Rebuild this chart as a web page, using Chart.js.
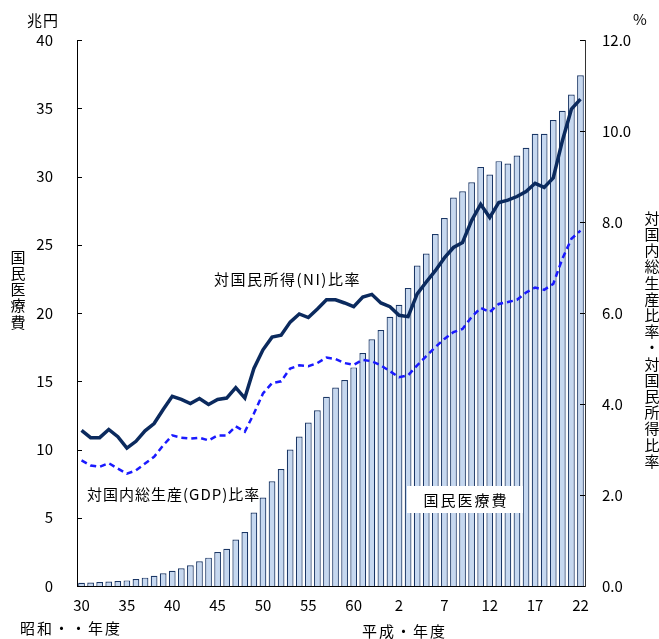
<!DOCTYPE html>
<html lang="ja">
<head>
<meta charset="utf-8">
<script src="https://cdn.jsdelivr.net/npm/chart.js@4.4.1/dist/chart.umd.min.js"></script>
<style>
  html, body { margin: 0; padding: 0; background: #fff; }
  #wrap { position: relative; width: 659px; height: 639px; }
</style>
</head>
<body>
<div id="wrap"><canvas id="chart"></canvas></div>
<script>
// 年度ラベル（昭和30〜63、平成1〜22）
const showaYears = [30,31,32,33,34,35,36,37,38,39,40,41,42,43,44,45,46,47,48,49,50,51,52,53,54,55,56,57,58,59,60,61,62,63];
const heiseiYears = [1,2,3,4,5,6,7,8,9,10,11,12,13,14,15,16,17,18,19,20,21,22];
const yearLabels = showaYears.concat(heiseiYears).map(String);

// 国民医療費（兆円）
const medicalCost = [
  0.2388,0.2583,0.2897,0.3230,0.3625,0.4095,0.5130,0.6132,0.7541,0.9389,
  1.1224,1.3002,1.5116,1.8101,2.0780,2.4962,2.7250,3.3994,3.9496,5.3786,
  6.4779,7.6684,8.5686,10.0042,10.9510,11.9805,12.8709,13.8659,14.5438,15.0932,
  16.0159,17.0690,18.0759,18.7554,
  19.7290,20.6074,21.8260,23.4784,24.3631,25.7908,26.9577,28.4542,28.9149,29.5823,
  30.7019,30.1418,31.1234,30.9507,31.5375,32.1111,33.1289,33.1276,34.1360,34.8084,
  36.0067,37.4202
];

// 対国民所得比率（%）
const niRatio = [
  3.42,3.26,3.26,3.44,3.28,3.03,3.18,3.41,3.57,3.88,4.17,4.10,4.01,4.12,3.99,4.10,4.13,4.36,4.13,4.78,5.19,
  5.47,5.51,5.80,5.98,5.90,6.09,6.29,6.29,6.22,6.14,6.35,6.41,6.22,6.14,5.95,5.92,6.42,6.68,6.93,7.21,7.44,
  7.55,8.03,8.39,8.10,8.43,8.48,8.56,8.67,8.85,8.76,8.97,9.78,10.48,10.70
];

// 対国内総生産比率（%）
const gdpRatio = [
  2.76,2.65,2.62,2.70,2.58,2.47,2.54,2.69,2.84,3.09,3.31,3.26,3.24,3.26,3.20,3.31,3.31,3.51,3.39,3.79,4.23,
  4.46,4.50,4.78,4.85,4.83,4.90,5.02,4.99,4.90,4.86,4.97,4.94,4.85,4.72,4.59,4.63,4.85,5.05,5.25,5.43,5.58,
  5.65,5.91,6.11,6.02,6.20,6.24,6.29,6.45,6.56,6.51,6.64,7.19,7.63,7.81
];

const leftTitle = '国民医療費';
const rightTitle = '対国内総生産比率・対国民所得比率';

const FONT = "'Noto Sans CJK JP', 'Noto Sans', sans-serif";

// inward tick marks + text labels
const overlay = {
  id: 'overlay',
  afterDatasetsDraw(chart) {
    const { ctx, chartArea: a, scales } = chart;
    ctx.save();
    ctx.strokeStyle = '#000';
    ctx.lineWidth = 1;
    scales.y.ticks.forEach(t => {
      const py = Math.round(scales.y.getPixelForValue(t.value)) + 0.5;
      ctx.beginPath(); ctx.moveTo(a.left, py); ctx.lineTo(a.left + 5, py); ctx.stroke();
    });
    scales.y1.ticks.forEach(t => {
      const py = Math.round(scales.y1.getPixelForValue(t.value)) + 0.5;
      ctx.beginPath(); ctx.moveTo(a.right - 5, py); ctx.lineTo(a.right, py); ctx.stroke();
    });

    ctx.fillStyle = '#000';
    ctx.textBaseline = 'middle';
    ctx.font = '15px ' + FONT;

    // units
    ctx.textAlign = 'left';
    ctx.letterSpacing = '1px';
    ctx.fillText('兆円', 27, 20);
    ctx.letterSpacing = '0px';
    ctx.fillText('%', 633, 19);

    // vertical axis titles
    ctx.textAlign = 'center';
    [...leftTitle].forEach((ch, i) => ctx.fillText(ch, 18, 257 + i * 16.2));
    [...rightTitle].forEach((ch, i) => ctx.fillText(ch, 652, 218 + i * 16.2));

    // series labels
    ctx.textAlign = 'left';
    ctx.letterSpacing = '1.5px';
    ctx.fillText('対国民所得(NI)比率', 214, 279);
    ctx.letterSpacing = '1px';
    ctx.fillText('対国内総生産(GDP)比率', 87, 494);

    ctx.fillStyle = '#fff';
    ctx.fillRect(407, 486, 116, 27);
    ctx.fillStyle = '#000';
    ctx.textAlign = 'center';
    ctx.letterSpacing = '2px';
    ctx.fillText('国民医療費', 466, 500);

    // era labels
    ctx.textAlign = 'left';
    ctx.fillText('昭和・・年度', 20, 628);
    ctx.fillText('平成・年度', 362, 631);
    ctx.restore();
  }
};

new Chart(document.getElementById('chart'), {
  data: {
    labels: yearLabels,
    datasets: [
      {
        type: 'line',
        label: '対国民所得(NI)比率',
        data: niRatio,
        yAxisID: 'y1',
        borderColor: '#0b2a5e',
        borderWidth: 3.5,
        pointRadius: 0,
        tension: 0,
        order: 1
      },
      {
        type: 'line',
        label: '対国内総生産(GDP)比率',
        data: gdpRatio,
        yAxisID: 'y1',
        borderColor: '#1a1aff',
        borderWidth: 2.5,
        borderDash: [6, 4],
        pointRadius: 0,
        tension: 0,
        order: 2
      },
      {
        type: 'bar',
        label: '国民医療費',
        data: medicalCost,
        yAxisID: 'y',
        backgroundColor: '#c6d8f0',
        borderColor: '#1b3766',
        borderWidth: 1.2,
        barPercentage: 0.74,
        categoryPercentage: 1.0,
        order: 3
      }
    ]
  },
  options: {
    responsive: true,
    maintainAspectRatio: false,
    animation: false,
    layout: { padding: { top: 40, left: 0, right: 0, bottom: 0 } },
    plugins: {
      legend: { display: false },
      tooltip: { enabled: false }
    },
    scales: {
      x: {
        grid: { display: false, drawTicks: false },
        border: { display: true, color: '#000', width: 1 },
        ticks: {
          autoSkip: false,
          maxRotation: 0,
          padding: 10,
          color: '#000',
          font: { family: FONT, size: 15 },
          callback: function(value, index) {
            return index % 5 === 0 ? yearLabels[index] : '';
          }
        },
        afterFit(scale) { scale.height = 53; }
      },
      y: {
        position: 'left',
        min: 0,
        max: 40,
        grid: { display: false, drawTicks: false },
        border: { display: true, color: '#000', width: 1 },
        ticks: {
          stepSize: 5,
          padding: 24,
          color: '#000',
          font: { family: FONT, size: 15 }
        },
        afterFit(scale) { scale.width = 77; }
      },
      y1: {
        position: 'right',
        min: 0,
        max: 12,
        grid: { display: false, drawTicks: false },
        border: { display: true, color: '#333', width: 1 },
        ticks: {
          stepSize: 2,
          padding: 17,
          color: '#000',
          font: { family: FONT, size: 15 },
          callback: v => v.toFixed(1)
        },
        afterFit(scale) { scale.width = 74; }
      }
    }
  },
  plugins: [overlay]
});
</script>
</body>
</html>
